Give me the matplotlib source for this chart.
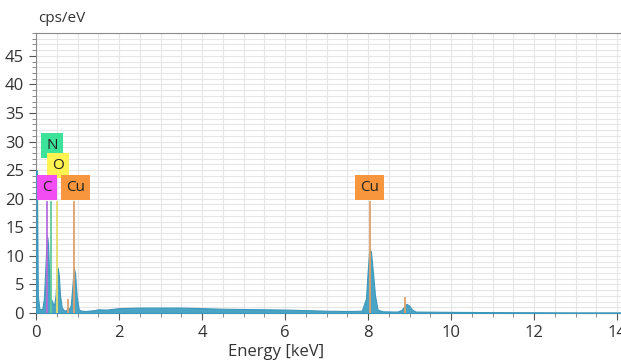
import matplotlib
matplotlib.use("Agg")
import matplotlib.pyplot as plt
from matplotlib.ticker import MultipleLocator

# spectrum (energy in keV, counts in cps/eV)
energy = [0.0, 0.012, 0.025, 0.045, 0.08, 0.15, 0.19, 0.22, 0.25, 0.27, 0.29,
          0.32, 0.35, 0.38, 0.41, 0.44, 0.47, 0.5, 0.525, 0.55, 0.58, 0.62,
          0.67, 0.72, 0.77, 0.8, 0.84, 0.88, 0.91, 0.94, 0.98, 1.03, 1.1,
          1.2, 1.4, 1.5, 1.7, 2.0, 2.5, 3.0, 3.5, 4.0, 4.5, 5.0, 5.5, 6.0,
          6.5, 7.0, 7.5, 7.85, 7.95, 7.99, 8.03, 8.07, 8.12, 8.17, 8.23,
          8.35, 8.7, 8.8, 8.87, 8.93, 8.99, 9.06, 9.15, 10.0, 11.0, 12.0,
          13.0, 14.1]
cps = [0.0, 25.0, 20.0, 3.0, 0.8, 0.6, 2.5, 7.0, 12.0, 13.4, 12.0,
       6.0, 2.5, 2.2, 1.6, 1.5, 3.0, 6.5, 7.9, 6.5, 3.0, 1.0,
       0.5, 0.4, 1.0, 0.6, 1.5, 5.0, 7.9, 7.0, 3.0, 0.6, 0.4,
       0.35, 0.5, 0.65, 0.6, 0.85, 0.95, 0.95, 0.95, 0.85, 0.75, 0.7, 0.65, 0.6,
       0.5, 0.4, 0.35, 0.4, 2.5, 7.0, 11.1, 10.8, 7.0, 3.0, 0.6,
       0.3, 0.25, 0.5, 1.1, 1.6, 1.3, 0.6, 0.25, 0.2, 0.15, 0.12,
       0.1, 0.1]

# element marker lines: position, top, colour
line_pos = [0.26, 0.37, 0.50, 0.92, 8.04, 0.78, 8.89]
line_top = [19.5, 19.5, 19.5, 19.5, 19.5, 2.3, 2.6]
line_col = ['#b46ed8', '#5fc99d', '#e6dc6a', '#e0a068', '#e0a068', '#e0a068', '#e0a068']

# element label boxes: text, centre x, centre y, colour
box_text = ['N', 'O', 'C', 'Cu', 'Cu']
box_x = [0.39, 0.525, 0.265, 0.96, 8.04]
box_y = [29.3, 25.8, 21.9, 21.9, 21.9]
box_col = ['#3de29a', '#fff34f', '#f24df2', '#f7963d', '#f7963d']

plt.rcParams['font.family'] = ['Open Sans', 'DejaVu Sans']

fig = plt.figure(figsize=(6.21, 3.6), dpi=100)
ax = fig.add_axes([36/621, 47/360, 585/621, 280/360])

ax.fill_between(energy, cps, color='#4aa4c6', lw=0.8, edgecolor='#3d97bb', zorder=3)

for x, t, c in zip(line_pos, line_top, line_col):
    ax.plot([x, x], [0, t], color=c, lw=1.3, zorder=4)

for t, x, y, c in zip(box_text, box_x, box_y, box_col):
    ax.text(x, y, t, ha='center', va='center', fontsize=11, color='#222222', zorder=5,
            bbox=dict(boxstyle='square,pad=0.33', fc=c, ec='none'))

ax.set_xlim(0, 585/41.5)
ax.set_ylim(0, 49)
ax.xaxis.set_major_locator(MultipleLocator(2))
ax.xaxis.set_minor_locator(MultipleLocator(0.5))
ax.yaxis.set_major_locator(MultipleLocator(5))
ax.yaxis.set_minor_locator(MultipleLocator(1))
ax.grid(which='both', color='#e6e6e6', lw=0.8, zorder=0)
ax.set_axisbelow(True)

ax.tick_params(which='major', length=5, color='#555555', labelsize=12, labelcolor='#333333')
ax.tick_params(which='minor', length=3, color='#777777')
for s in ['top', 'left']:
    ax.spines[s].set_color('#8a8a8a')
ax.spines['bottom'].set_color('#555555')
ax.spines['right'].set_visible(False)

fig.text(38/621, 1 - 19/360, 'cps/eV', fontsize=11, color='#333333', va='center')
fig.text(276/621, 1 - 352/360, 'Energy [keV]', fontsize=12, color='#333333', ha='center', va='center')

fig.savefig('out.png', dpi=100)
